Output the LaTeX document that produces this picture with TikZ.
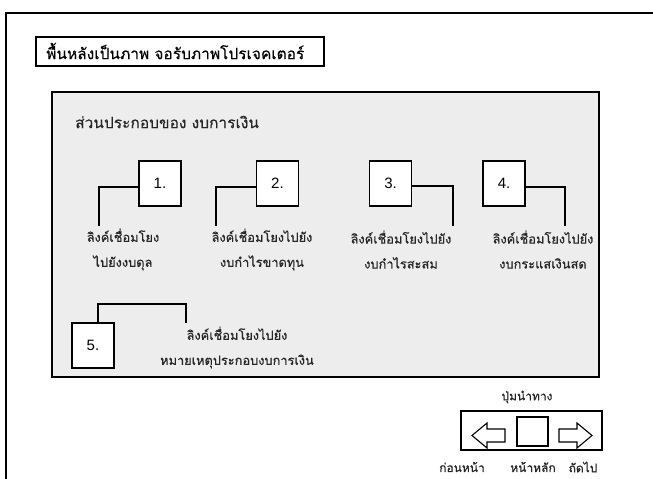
\documentclass[tikz,border=0pt]{standalone}
\usepackage{fontspec}
\newfontfamily\thai[Script=Thai,FakeBold=0.5]{Loma}
\newfontfamily\thaihead[Script=Thai,FakeBold=0.3]{Loma}
\newfontfamily\lat{Liberation Sans}
\tikzset{
  x=1pt,y=-1pt,
  frame/.style={line width=1.4pt,black},
  boxed/.style={draw,line width=1.1pt,fill=white,inner sep=0pt},
  numbox/.style={draw,line width=1.2pt,fill=white,minimum width=42pt,minimum height=45pt,inner sep=0pt,font=\lat\fontsize{15}{16}\selectfont},
  conn/.style={line width=1.1pt},
  lbl/.style={font=\thai\fontsize{12.8}{25}\selectfont,align=center,text=black!85},
  navlbl/.style={font=\thai\fontsize{12}{13}\selectfont,text=black!85},
  navarrow/.style={draw,line width=1.1pt,fill=white,line join=miter}
}
\begin{document}
\begin{tikzpicture}
\useasboundingbox (0,0) rectangle (653,479);
\fill[white] (0,0) rectangle (653,479);
% outer screen frame
\coordinate (ftr) at (653,13);
\coordinate (ftl) at (6,13);
\coordinate (fbl) at (6,479);
\draw[frame] (ftr) -- (ftl) -- (fbl);
% title box
\node[boxed,minimum width=288pt,minimum height=29pt] (title) at (180,51.5) {};
\node[anchor=west,inner sep=0pt,font=\thaihead\fontsize{15.5}{17}\selectfont] (titletext) at (46,51) {พื้นหลังเป็นภาพ จอรับภาพโปรเจคเตอร์};
% panel
\node[draw,line width=1.2pt,fill=black!7,minimum width=547pt,minimum height=285pt,inner sep=0pt] (panel) at (325.5,234.5) {};
\node[anchor=west,inner sep=0pt,font=\thaihead\fontsize{15.5}{17}\selectfont,text=black!85] (ptitle) at (75,122) {ส่วนประกอบของ งบการเงิน};
% numbered boxes
\node[numbox] (b1) at (160,183.5) {1.};
\node[numbox] (b2) at (277.5,183.5) {2.};
\node[numbox] (b3) at (390.5,183.5) {3.};
\node[numbox] (b4) at (504,183.5) {4.};
\node[numbox] (b5) at (93,345.5) {5.};
% labels
\node[lbl] (t1) at (123,249.5) {ลิงค์เชื่อมโยง\\ไปยังงบดุล};
\node[lbl] (t2) at (262,249.5) {ลิงค์เชื่อมโยงไปยัง\\งบกำไรขาดทุน};
\node[lbl] (t3) at (401,249.5) {ลิงค์เชื่อมโยงไปยัง\\งบกำไรสะสม};
\node[lbl] (t4) at (543,249.5) {ลิงค์เชื่อมโยงไปยัง\\งบกระแสเงินสด};
\node[lbl] (t5) at (237,347.5) {ลิงค์เชื่อมโยงไปยัง\\หมายเหตุประกอบงบการเงิน};
% connector ends
\coordinate (e1) at (99,226);
\coordinate (e2) at (216,226);
\coordinate (e3) at (453,226);
\coordinate (e4) at (565,226);
\coordinate (e5) at (186,323);
\draw[conn] (b1.west |- 0,187) -| (e1);
\draw[conn] (b2.west |- 0,187) -| (e2);
\draw[conn] (b3.east |- 0,186) -| (e3);
\draw[conn] (b4.east |- 0,187) -| (e4);
\draw[conn] (98,0 |- b5.north) |- (0,304 -| e5) -- (e5);
% navigation
\node[navlbl] (navtitle) at (527,397) {ปุ่มนำทาง};
\node[boxed,minimum width=141pt,minimum height=39pt] (nav) at (531.5,430.5) {};
\node[boxed,minimum width=31pt,minimum height=29pt] (home) at (532.5,431.5) {};
\draw[navarrow] (472,435.5) -- (487,423) -- (487,429) -- (505,429) -- (505,442) -- (487,442) -- (487,448) -- cycle;
\draw[navarrow] (592,435.5) -- (577,423) -- (577,429) -- (559,429) -- (559,442) -- (577,442) -- (577,448) -- cycle;
\node[navlbl] (lprev) at (462,467) {ก่อนหน้า};
\node[navlbl] (lhome) at (533,467) {หน้าหลัก};
\node[navlbl] (lnext) at (583,467) {ถัดไป};
\end{tikzpicture}
\end{document}
